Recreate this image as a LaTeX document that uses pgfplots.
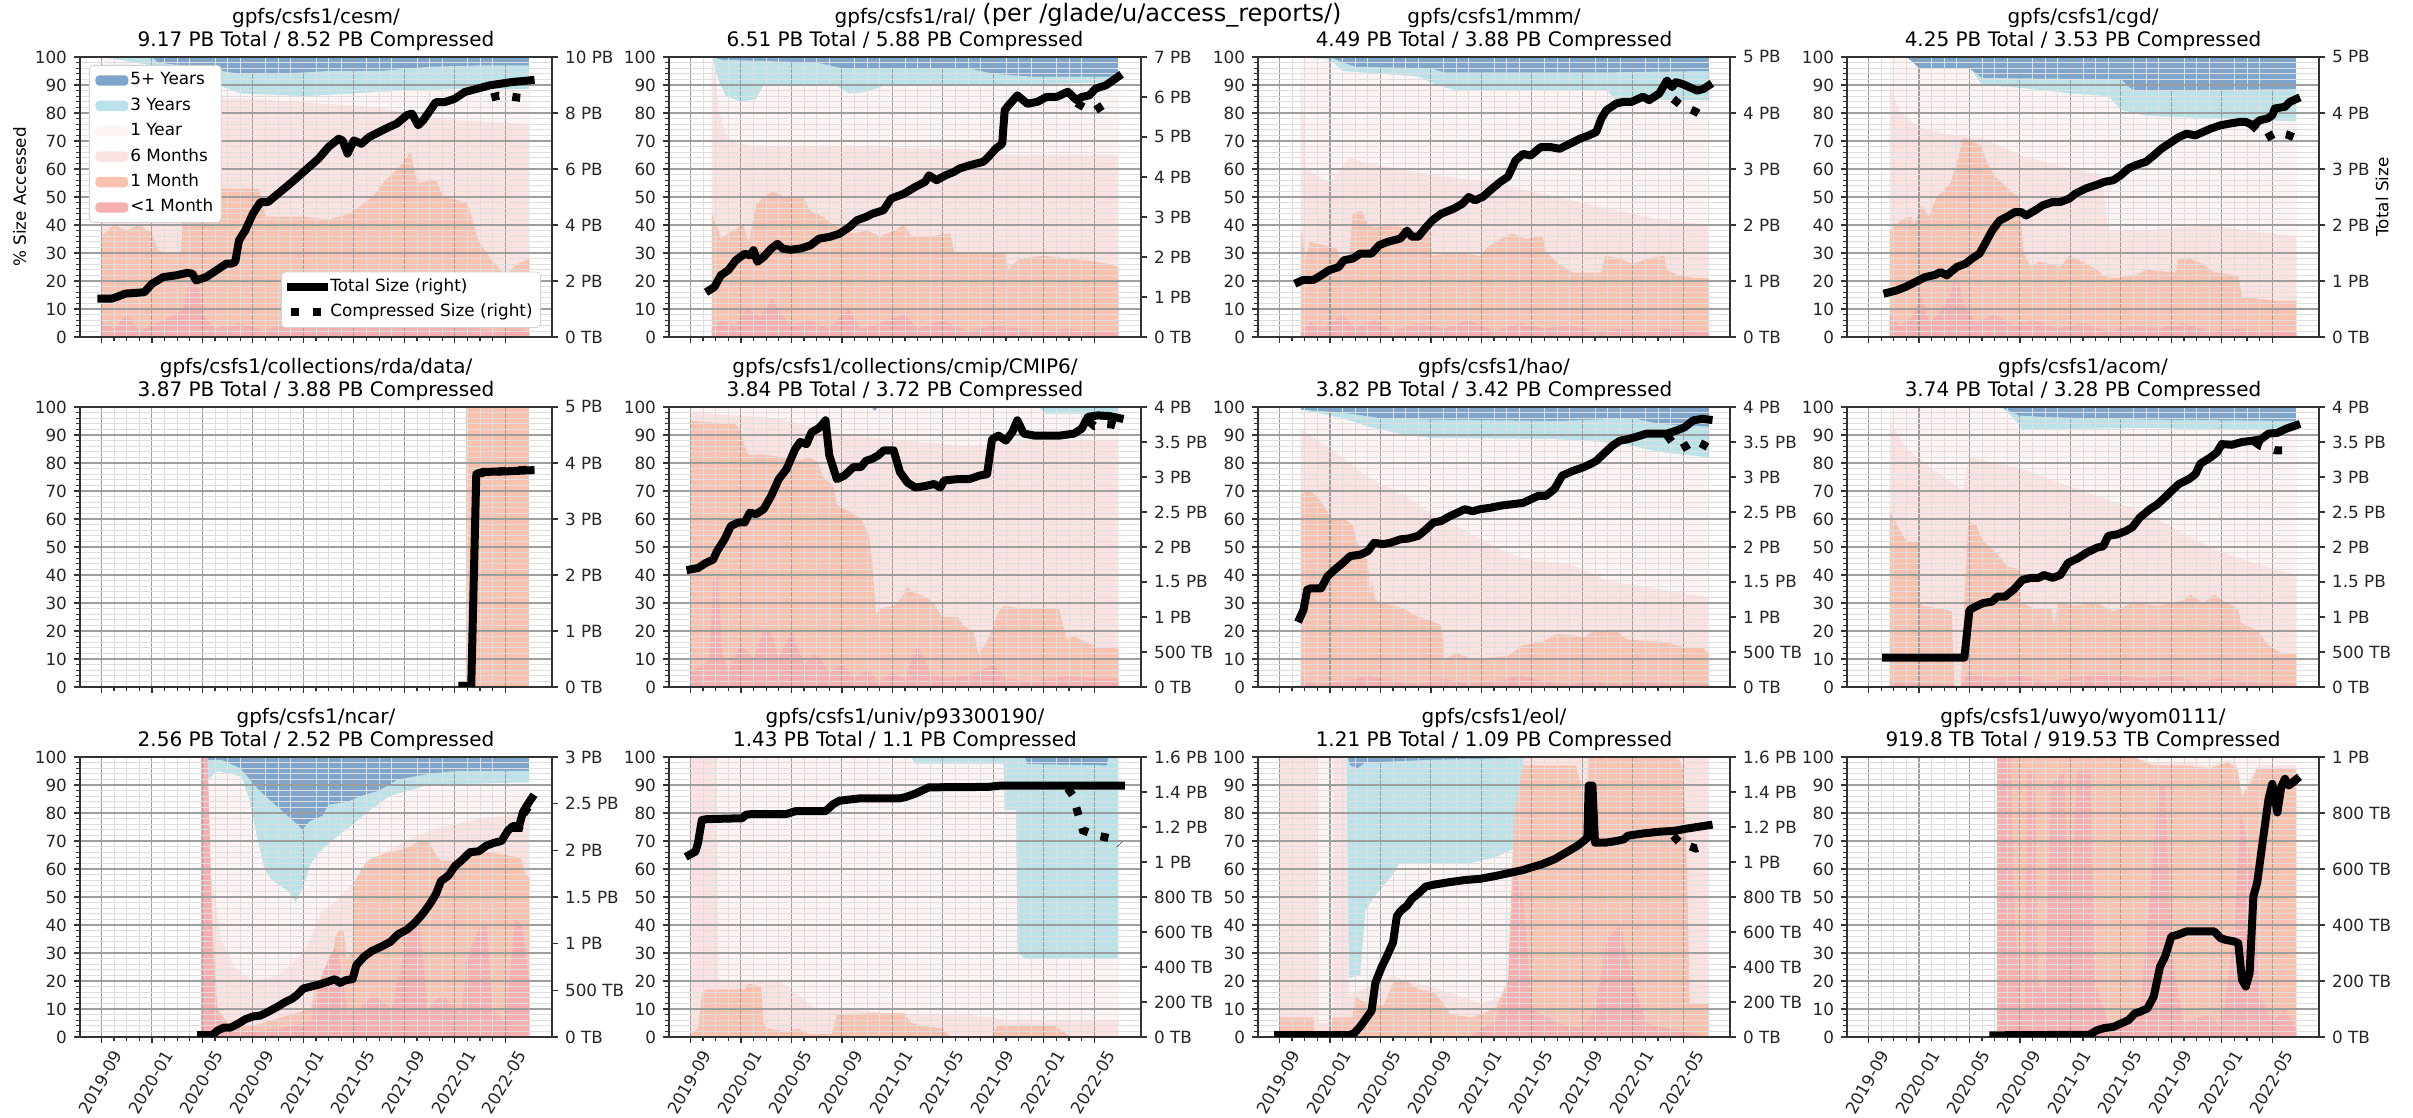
\documentclass[border=0pt]{standalone}
\usepackage{fontspec}
\setmainfont{DejaVu Sans}
\usepackage{pgfplots}
\pgfplotsset{compat=1.18}
\definecolor{cF}{RGB}{126,166,204}
\definecolor{cT}{RGB}{186,227,233}
\definecolor{cY}{RGB}{254,244,243}
\definecolor{cS}{RGB}{252,227,226}
\definecolor{cM}{RGB}{249,194,174}
\definecolor{cL}{RGB}{247,174,174}
\pgfplotsset{
  panel/.style={scale only axis, width=236pt, height=140pt, xmin=6.3, xmax=43.7,
    anchor=south west, /pgf/number format/assume math mode=true,
    tick label style={font=\fontsize{8.4}{10}\selectfont, text=black!85},
    tick align=outside, major tick length=3pt, minor tick length=1.8pt,
    every tick/.style={black!80, line width=0.6pt},
    axis line style={black!80, line width=0.7pt}},
  areaax/.style={panel, ymin=0, ymax=100, axis on top,
    xtick={8,12,...,40}, minor x tick num=3, xticklabels={},
    ytick={0,10,...,100}, minor y tick num=4,
    xtick pos=left, ytick pos=left,
    grid=both, major grid style={black!38, line width=0.55pt},
    minor grid style={black!13, line width=0.35pt},
    title style={at={(0.5,1)}, anchor=south, yshift=-3pt, inner sep=0pt, align=center,
      font=\fontsize{10}{11.5}\selectfont},
    legend image code/.code={\path[##1,draw=none] (0pt,-2.6pt) rectangle (16.5pt,2.6pt);}},
  lineax/.style={panel, ymin=0, axis x line=none, axis y line*=right,
    xtick=\empty, ytick pos=right, yticklabel pos=right,
    legend image code/.code={\draw[##1] (0pt,0pt) -- (16.5pt,0pt);}},
  bottomrow/.style={xticklabels={2019-09,2020-01,2020-05,2020-09,2021-01,2021-05,2021-09,2022-01,2022-05},
    xticklabel style={xshift=10pt, yshift=-1.5pt, rotate=60, anchor=east}},
  lgd/.style={legend cell align=left, legend style={draw=black!18, fill=white, rounded corners=2pt,
    font=\fontsize{8.4}{10}\selectfont, inner xsep=3pt, inner ysep=2.5pt, row sep=2.6pt,
    nodes={inner sep=1pt, text height=6.3pt, text depth=1.8pt}}},
  tot/.style={black, line width=4pt, line join=round, line cap=rect},
  cmp/.style={black, line width=4pt, dash pattern=on 4pt off 6.6pt, line cap=butt},
  TBPB/.style={ytick={0,0.5,1,1.5,2,2.5,3,3.5,4}, yticklabels={0 TB,500 TB,1 PB,1.5 PB,2 PB,2.5 PB,3 PB,3.5 PB,4 PB}},
  PB5/.style={ymax=5, ytick={0,1,2,3,4,5}, yticklabels={0 TB,1 PB,2 PB,3 PB,4 PB,5 PB}},
  PB16/.style={ymax=1.6, ytick={0,0.2,0.4,0.6,0.8,1,1.2,1.4,1.6}, yticklabels={0 TB,200 TB,400 TB,600 TB,800 TB,1 PB,1.2 PB,1.4 PB,1.6 PB}},
}
\newcommand{\areas}[6]{%
  \addplot[fill=cF,draw=none] coordinates {#1} \closedcycle;
  \addplot[fill=cT,draw=none] coordinates {#2} \closedcycle;
  \addplot[fill=cY,draw=none] coordinates {#3} \closedcycle;
  \addplot[fill=cS,draw=none] coordinates {#4} \closedcycle;
  \addplot[fill=cM,draw=none] coordinates {#5} \closedcycle;
  \addplot[fill=cL,draw=none] coordinates {#6} \closedcycle;
}
\newcommand{\sizes}[2]{%
  \addplot[tot] coordinates {#1};
  \addplot[cmp] coordinates {#2};
}
\begin{document}
\begin{tikzpicture}
\useasboundingbox (0,0) rectangle (1206.5pt,559pt);
\node[font=\fontsize{12}{14}\selectfont, anchor=base] at (581pt,548pt) {(per /glade/u/access\_reports/)};
\node[rotate=90, font=\fontsize{8.4}{10}\selectfont] at (9.75pt,460.5pt) {\% Size Accessed};
\node[rotate=90, font=\fontsize{8.4}{10}\selectfont] at (1191pt,460.5pt) {Total Size};

% ---------- Panel 1: cesm
\begin{axis}[areaax, lgd, at={(40pt,390.5pt)}, title={gpfs/csfs1/cesm/\\9.17 PB Total / 8.52 PB Compressed},
  legend style={at={(0,1)}, anchor=north west, xshift=4.5pt, yshift=-4pt}]
\areas{(8,100)(41.9,100)}
{(8,100)(12,100)(12.5,98)(16,96)(19,94)(22,94)(26,95)(30,95)(34,96.5)(38,97)(41.9,97)}
{(8,100)(12,97)(16,92)(19,87)(24,86)(28,87)(32,88)(36,88.5)(41.9,88.5)}
{(8,85)(20,85)(30,82)(34,78)(38,77)(41.9,76)}
{(8,36)(9,40)(10,38)(11,40)(12,37)(12.5,31)(13,30)(14.3,30)(14.5,50)(15.5,52)(17,53)(18.5,53)(20.5,53)(21,43)(24,43)(26,42)(27.7,44)(29.5,50)(30.5,56)(31.5,60)(32.5,66)(33,55)(34.5,56)(35.1,50)(36.9,48)(37.2,45)(37.8,35)(38.8,28)(40,22)(40.9,26)(41.9,28)}
{(8,5)(9,3)(10,8)(11,2)(12,4)(13,6)(14.5,10)(15,22)(15.5,25)(16,8)(17,3)(19,5)(21,2)(23,6)(25,3)(27,5)(29,8)(31,3)(33,6)(35,3)(37,4)(39,2)(41,3)(41.9,2)}
\legend{5+ Years,3 Years,1 Year,6 Months,1 Month,<1 Month}
\end{axis}
\begin{axis}[lineax, lgd, at={(40pt,390.5pt)}, ymax=10, ytick={0,2,4,6,8,10}, yticklabels={0 TB,2 PB,4 PB,6 PB,8 PB,10 PB},
  legend style={at={(1,0)}, anchor=south east, xshift=-5.5pt, yshift=4.5pt}]
\sizes{(8,1.37)(8.8,1.37)(9.2,1.43)(9.9,1.55)(10.6,1.57)(11.4,1.60)(12,1.90)(12.9,2.14)(13.9,2.20)(14.8,2.29)(15.2,2.26)(15.5,2.02)(16.3,2.14)(17.1,2.38)(17.9,2.62)(18.3,2.62)(18.6,2.68)(18.9,3.45)(19.4,3.81)(20,4.40)(20.6,4.82)(21.2,4.82)(22,5.12)(22.8,5.42)(23.4,5.65)(24.3,6.01)(25.2,6.37)(26,6.79)(26.8,7.08)(27.1,7.02)(27.5,6.55)(28,7.02)(28.6,6.90)(29.2,7.14)(30,7.32)(30.8,7.50)(31.4,7.62)(32.2,7.92)(32.6,7.98)(33.1,7.56)(33.5,7.74)(34.5,8.39)(35.2,8.39)(36,8.51)(36.8,8.75)(37.8,8.87)(38.8,8.99)(39.7,9.05)(40.6,9.11)(41.4,9.14)(42,9.17)}
{(38.9,8.55)(39.5,8.62)(40.3,8.60)(41,8.55)(41.7,8.52)}
\legend{Total Size (right),Compressed Size (right)}
\end{axis}

% ---------- Panel 2: ral
\begin{axis}[areaax, at={(334.5pt,390.5pt)}, title={gpfs/csfs1/ral/\\6.51 PB Total / 5.88 PB Compressed}]
\areas{(9.7,100)(41.9,100)}
{(9.7,100)(10.5,99)(18,98)(20,96)(30,96)(32,94)(35,93)(41.9,93)}
{(9.7,100)(10.2,92)(10.8,86)(12,84)(13.2,85)(13.8,90)(19.5,90)(20.5,87)(22,87.5)(23.5,90)(32,90)(41.9,91)}
{(9.7,100)(10.3,80)(11,70)(13,68)(20,68)(30,67)(33,65)(41.9,65)}
{(9.7,44)(10.1,40)(10.4,35)(11,37)(12.2,40)(12.6,34)(13.2,47)(13.8,50)(14.5,52)(15.5,50)(16.9,50)(17.5,45)(18.5,43)(19.3,40)(20.9,37)(22,38)(23,36)(24.2,38)(24.9,40)(25.5,36)(27,36)(28.6,37)(28.9,30)(32.9,30)(33.2,24)(34,28)(36,29)(38,28)(40,27)(41.2,26)(41.9,25)}
{(9.7,3)(10.5,6)(11.5,4)(12.5,10)(13.5,7)(14.5,14)(15,9)(16,4)(17.5,6)(19,3)(20.5,10)(21.5,3)(23,5)(25,8)(26,3)(28,6)(30,2)(32,4)(34,3)(36,2)(38,3)(40,2)(41.9,2)}
\end{axis}
\begin{axis}[lineax, at={(334.5pt,390.5pt)}, ymax=7, ytick={0,1,2,3,4,5,6,7}, yticklabels={0 TB,1 PB,2 PB,3 PB,4 PB,5 PB,6 PB,7 PB}]
\sizes{(9.5,1.17)(9.9,1.25)(10.4,1.54)(11,1.67)(11.6,1.92)(12.3,2.08)(12.7,2.04)(13,2.17)(13.3,1.88)(13.8,2.0)(14.4,2.21)(14.9,2.33)(15.3,2.21)(15.9,2.18)(16.7,2.21)(17.5,2.29)(18.2,2.46)(19,2.5)(19.8,2.58)(20.6,2.75)(21.2,2.92)(21.9,3.0)(22.4,3.08)(23.3,3.17)(23.9,3.46)(24.9,3.58)(25.8,3.75)(26.6,3.88)(26.9,4.04)(27.5,3.92)(28.2,4.04)(28.9,4.13)(29.3,4.21)(30.1,4.29)(31.2,4.38)(31.6,4.5)(32.2,4.71)(32.7,4.83)(32.9,5.67)(33.2,5.79)(33.9,6.04)(34.7,5.83)(35.5,5.88)(36.2,6.0)(37,6.0)(37.9,6.13)(38.6,5.92)(39,6.0)(39.6,6.04)(40.1,6.21)(40.9,6.29)(41.5,6.42)(41.9,6.51)}
{(38.6,5.85)(39.3,5.72)(40,5.65)(40.7,5.80)(41.5,5.88)}
\end{axis}

% ---------- Panel 3: mmm
\begin{axis}[areaax, at={(629pt,390.5pt)}, title={gpfs/csfs1/mmm/\\4.49 PB Total / 3.88 PB Compressed}]
\areas{(9.7,100)(42,100)}
{(9.7,100)(12,100)(13,98)(14,96.5)(20,96)(21,94.5)(34,94.5)(42,95)}
{(9.7,100)(12,99)(13,95)(19,93)(20.5,90)(22,88)(34,88)(34.5,85)(42,84.5)}
{(9.7,95)(10.1,60)(12,55)(13.5,64)(15,62)(20,58)(25,55)(30,50)(35,45)(38,42)(42,40)}
{(9.7,38)(10.1,28)(10.4,34)(11.3,33)(12.5,32)(12.8,28)(13.5,28)(13.8,44)(14.5,45)(15,40)(15.6,39)(17,40)(18.5,38)(19.9,38)(20.1,29)(22,30)(23.9,29)(24.5,32)(25.5,35)(26.4,37)(27.5,35)(28.8,36)(29.2,30)(30.1,26)(31.3,23)(33.5,23)(33.8,29)(35,28)(36,26)(37.1,28)(38.5,29)(38.7,24)(39.6,22)(41,21)(42,21)}
{(9.7,2)(10.5,5)(11.5,3)(13,8)(14,3)(15.5,6)(17,2)(19,5)(21,3)(23,6)(25,2)(27,5)(29,3)(31,4)(33,2)(35,3)(37,2)(39,3)(41,2)(42,2)}
\end{axis}
\begin{axis}[lineax, PB5, at={(629pt,390.5pt)}]
\sizes{(9.5,0.98)(9.9,1.02)(10.7,1.02)(11.3,1.10)(11.9,1.19)(12.7,1.25)(13.1,1.37)(13.8,1.40)(14.4,1.49)(15.3,1.49)(15.9,1.64)(16.6,1.70)(17.1,1.73)(17.6,1.76)(18.1,1.90)(18.5,1.79)(19,1.79)(19.5,1.93)(20.1,2.08)(20.8,2.20)(21.8,2.29)(22.5,2.38)(23,2.50)(23.5,2.44)(24.1,2.50)(24.7,2.62)(25.5,2.77)(26.1,2.86)(26.7,3.15)(27.3,3.27)(27.9,3.24)(28.7,3.39)(29.5,3.39)(30.2,3.36)(31,3.45)(31.8,3.54)(32.5,3.60)(33.1,3.66)(33.5,3.90)(33.9,4.05)(34.7,4.17)(35.3,4.20)(35.9,4.20)(36.8,4.29)(37.3,4.23)(38.1,4.35)(38.7,4.58)(39.1,4.46)(39.4,4.55)(39.9,4.52)(40.5,4.46)(41.1,4.40)(41.6,4.43)(42,4.49)}
{(39.2,4.25)(39.8,4.14)(41,4.02)(42,3.88)}
\end{axis}

% ---------- Panel 4: cgd
\begin{axis}[areaax, at={(923.5pt,390.5pt)}, title={gpfs/csfs1/cgd/\\4.25 PB Total / 3.53 PB Compressed}]
\areas{(9.7,100)(41.9,100)}
{(9.7,100)(11,100)(12,96)(16,96)(17,92.5)(28,92)(29,88)(41.9,88.5)}
{(9.7,100)(11,100)(12,96)(16,96)(17,90)(20,89)(24,87)(27,86)(28,81)(30,79)(41.9,77)}
{(9.7,90)(10.5,80)(12,75)(14,72.5)(17,71)(20,65)(24,60)(26.5,58)(27,38)(30,38)(35,40)(38,38)(41.9,36)}
{(9.7,38)(10.2,40)(10.6,42)(11.4,43)(11.6,40)(12.2,47)(12.8,43)(13.4,50)(14.5,55)(15,62)(15.5,71)(16.2,70)(17,68)(17.4,62)(18.1,57)(19.3,52)(19.9,50)(20.3,30)(20.9,25)(21.5,27)(22.4,26)(23.2,25)(23.9,29)(24.9,27)(26.1,24)(26.6,22)(27.4,21)(29.2,22)(30,24)(32.3,23)(32.6,28)(33.5,28)(34.5,26)(35.4,23)(37.3,22)(37.6,14)(38.2,14)(40,13)(41.9,13)}
{(9.7,8)(10.5,4)(11.5,7)(12.2,15)(12.8,5)(13.5,8)(14.5,15)(15,24)(15.5,12)(16.5,5)(18,8)(19.5,4)(21,6)(23,3)(25,5)(27,2)(29,4)(31,3)(33,5)(35,2)(37,3)(39,2)(41.9,2)}
\end{axis}
\begin{axis}[lineax, PB5, at={(923.5pt,390.5pt)}]
\sizes{(9.5,0.79)(10.2,0.83)(10.9,0.89)(11.7,0.98)(12.5,1.07)(13.3,1.11)(13.7,1.16)(14.2,1.10)(15,1.25)(15.7,1.31)(16.2,1.40)(16.8,1.49)(17.1,1.61)(17.8,1.90)(18.4,2.08)(19,2.15)(19.6,2.23)(20.1,2.23)(20.5,2.17)(21.2,2.26)(21.8,2.35)(22.6,2.41)(23.2,2.41)(23.9,2.47)(24.4,2.56)(25.2,2.65)(26,2.71)(26.7,2.77)(27.4,2.80)(28,2.89)(28.6,3.01)(29.2,3.07)(30,3.13)(30.6,3.24)(31.2,3.36)(32,3.48)(32.6,3.57)(33.2,3.63)(33.9,3.60)(34.5,3.66)(35.1,3.72)(35.9,3.78)(36.6,3.81)(37.4,3.84)(37.9,3.84)(38.5,3.78)(39,3.87)(39.6,3.90)(40,3.96)(40.2,4.08)(41,4.11)(41.4,4.20)(41.9,4.25)}
{(38.3,3.80)(39.5,3.55)(40.4,3.66)(41.1,3.62)(41.9,3.55)}
\end{axis}

% ---------- Panel 5: rda
\begin{axis}[areaax, at={(40pt,215.5pt)}, title={gpfs/csfs1/collections/rda/data/\\3.87 PB Total / 3.88 PB Compressed}]
\areas{(36.9,100)(41.9,100)}
{(36.9,100)(41.9,100)}
{(36.9,100)(41.9,100)}
{(36.9,100)(41.9,100)}
{(36.9,100)(41.9,100)}
{(36.9,0)(41.9,0)}
\end{axis}
\begin{axis}[lineax, PB5, at={(40pt,215.5pt)}]
\sizes{(36.6,0.02)(37.3,0.02)(37.7,3.80)(38.2,3.84)(40,3.85)(42,3.87)}
{(37.7,3.81)(40,3.86)(42,3.88)}
\end{axis}

% ---------- Panel 6: cmip
\begin{axis}[areaax, at={(334.5pt,215.5pt)}, title={gpfs/csfs1/collections/cmip/CMIP6/\\3.84 PB Total / 3.72 PB Compressed}]
\areas{(8,100)(41.9,100)}
{(8,100)(22.3,100)(22.6,98.5)(22.9,100)(41.9,100)}
{(8,100)(22.3,100)(22.6,98.5)(22.9,100)(35.5,100)(36.2,97.5)(41.9,97.5)}
{(8,98)(15,96)(20,90)(25,88)(30,86)(35,88)(41.9,88)}
{(8,95)(11.5,94)(11.9,92)(12.3,86)(12.6,83)(13.8,83)(15.3,82)(16.6,81)(17.5,82)(18.1,80)(18.5,75)(19.3,72)(19.6,65)(20.9,62)(21.5,60)(22.1,55)(22.4,45)(22.7,26)(23,28)(24.2,29)(24.9,33)(25.2,36)(25.5,34)(26.7,32)(27.3,30)(27.9,25)(29.2,25)(29.6,22)(30.4,20)(30.8,12)(31.2,14)(31.9,20)(32.4,27)(32.9,29)(34.1,28)(37.2,28)(37.8,17)(38.4,18)(39.3,16)(40.3,14)(41.9,14)}
{(8,5)(9,8)(9.5,10)(9.8,38)(10.2,40)(10.5,12)(11,6)(12,15)(13,10)(14,22)(14.5,18)(15,10)(16,20)(17,8)(18,12)(19,5)(20,8)(21,3)(22,6)(23,2)(24,5)(25,3)(26,15)(27,5)(28,3)(30,4)(32,8)(33,3)(35,2)(38,4)(40,3)(41.9,3)}
\end{axis}
\begin{axis}[lineax, TBPB, ymax=4, at={(334.5pt,215.5pt)}]
\sizes{(8,1.68)(8.6,1.70)(9.2,1.77)(9.8,1.82)(10.1,1.94)(10.7,2.11)(11.2,2.30)(11.8,2.35)(12.3,2.35)(12.7,2.49)(13.2,2.47)(13.8,2.54)(14.4,2.73)(15,2.97)(15.6,3.11)(16.3,3.40)(16.7,3.50)(17.2,3.47)(17.6,3.64)(18.1,3.69)(18.4,3.74)(18.7,3.81)(19,3.31)(19.6,2.97)(20.2,3.02)(20.9,3.14)(21.5,3.14)(21.9,3.23)(22.4,3.26)(22.9,3.31)(23.3,3.38)(24.1,3.38)(24.6,3.07)(25.2,2.92)(25.8,2.85)(26.6,2.87)(27.3,2.90)(27.8,2.85)(28.1,2.95)(29.2,2.97)(30.1,2.97)(30.9,3.02)(31.5,3.04)(31.9,3.54)(32.4,3.59)(33,3.52)(33.5,3.64)(33.9,3.81)(34.4,3.62)(35.3,3.59)(36.2,3.59)(37.2,3.59)(38.4,3.62)(39,3.69)(39.5,3.86)(40.3,3.88)(41.2,3.87)(42,3.84)}
{(39.5,3.80)(40,3.73)(40.7,3.76)(41.4,3.75)(42,3.72)}
\end{axis}

% ---------- Panel 7: hao
\begin{axis}[areaax, at={(629pt,215.5pt)}, title={gpfs/csfs1/hao/\\3.82 PB Total / 3.42 PB Compressed}]
\areas{(9.7,100)(42,100)}
{(9.7,99)(13,98)(16,96)(20,95.5)(30,95)(36,96)(38,94)(42,93)}
{(9.7,99)(13,96)(15,93)(18,90)(20,89)(30,88.5)(35,87)(38,84)(42,82)}
{(9.7,92)(12,85)(15,75)(18,68)(20,62)(23,55)(26,48)(28,45)(31,44)(34,38)(38,35)(42,32)}
{(9.7,69)(10.4,70)(11,68)(11.6,64)(12.2,60)(13.1,60)(13.8,58)(14.1,52)(14.7,47)(15,45)(15.2,32)(15.3,38)(15.6,31)(16.2,30)(17.8,28)(19,25)(19.9,24)(20.8,22)(21.1,10)(22,12)(23.3,10)(26.1,11)(27.3,15)(28.8,16)(30,19)(32.2,18)(33,20)(34.7,20)(35.5,17)(38.7,16)(40.2,14)(41.5,14)(42,12)}
{(9.7,3)(11,1)(13,2)(15,4)(17,2)(19,1)(21,3)(23,1)(25,2)(27,4)(29,2)(31,1)(33,2)(35,1)(37,2)(39,1)(42,1)}
\end{axis}
\begin{axis}[lineax, TBPB, ymax=4, at={(629pt,215.5pt)}]
\sizes{(9.6,0.98)(9.9,1.10)(10.2,1.39)(10.5,1.41)(11.3,1.41)(11.8,1.58)(12.4,1.68)(13,1.77)(13.6,1.87)(14.4,1.89)(15,1.94)(15.5,2.06)(16.2,2.04)(16.8,2.06)(17.6,2.11)(18.2,2.12)(19,2.16)(19.6,2.25)(20.2,2.35)(20.8,2.37)(21.5,2.44)(22.1,2.49)(22.7,2.54)(23.3,2.51)(23.9,2.54)(24.7,2.56)(25.5,2.59)(26.4,2.61)(27.3,2.63)(27.9,2.68)(28.5,2.73)(29.1,2.73)(29.8,2.83)(30.4,3.02)(31.3,3.09)(32.1,3.14)(32.7,3.19)(33.1,3.23)(33.8,3.35)(34.4,3.45)(35,3.52)(35.6,3.54)(36.2,3.57)(37.1,3.62)(37.9,3.62)(38.7,3.62)(39.4,3.66)(40.1,3.71)(40.8,3.81)(41.5,3.83)(42,3.82)}
{(38.7,3.60)(39.2,3.48)(39.8,3.40)(40.3,3.45)(40.9,3.52)(41.5,3.47)(42,3.42)}
\end{axis}

% ---------- Panel 8: acom
\begin{axis}[areaax, at={(923.5pt,215.5pt)}, title={gpfs/csfs1/acom/\\3.74 PB Total / 3.28 PB Compressed}]
\areas{(9.7,100)(41.9,100)}
{(9.7,100)(18.5,100)(19.9,97)(22,96.4)(30,95.5)(41.9,95)}
{(9.7,100)(18.5,100)(19.5,96)(20.2,92)(30,92.5)(41.9,91.5)}
{(9.7,95)(11,85)(13,78)(15.5,70)(16,82)(20,78)(25,70)(30,62)(35,50)(38,45)(41.9,40)}
{(9.7,63)(10,60)(10.6,55)(11,52)(11.9,52)(12,32)(12.2,29)(13.7,28)(14.6,27)(14.8,0)(15.3,0)(15.6,30)(15.9,59)(16.5,58)(17.1,52)(18.1,48)(19,43)(19.9,42)(20.1,30)(21.2,28)(22.5,28)(22.7,22)(23,30)(24.3,29)(26.1,30)(27.4,27)(28.9,30)(31,29)(33,31)(33.5,33)(34.5,30)(35.4,33)(36,31)(37.3,28)(37.5,23)(38.8,20)(39.7,15)(40.7,12)(41.9,12)}
{(9.7,2)(12,1)(14.6,1)(14.8,0)(15.3,0)(15.9,5)(18,3)(20,4)(22,2)(24,3)(26,5)(28,4)(30,3)(32,4)(34,2)(36,3)(38,2)(40,1)(41.9,1)}
\end{axis}
\begin{axis}[lineax, TBPB, ymax=4, at={(923.5pt,215.5pt)}]
\sizes{(9.4,0.42)(15.6,0.42)(16,1.10)(16.5,1.15)(17.1,1.20)(17.8,1.22)(18.2,1.29)(18.8,1.29)(19.5,1.39)(20.2,1.53)(20.9,1.56)(21.5,1.56)(21.9,1.60)(22.6,1.56)(23.2,1.60)(23.8,1.77)(24.6,1.84)(25.3,1.92)(26.1,1.99)(26.6,2.01)(27,2.16)(27.7,2.18)(28.4,2.23)(28.9,2.28)(29.5,2.42)(30.3,2.54)(30.9,2.61)(31.5,2.71)(32,2.80)(32.6,2.90)(33.4,2.97)(33.9,3.04)(34.3,3.19)(35.1,3.28)(35.6,3.35)(36,3.47)(36.8,3.46)(37.6,3.50)(38.5,3.52)(39.1,3.54)(39.7,3.62)(40.4,3.63)(41.1,3.69)(41.9,3.74)}
{(38.6,3.50)(39.1,3.44)(40.3,3.38)(41,3.38)(41.6,3.39)}
\end{axis}

% ---------- Panel 9: ncar
\begin{axis}[areaax, bottomrow, at={(40pt,40.5pt)}, title={gpfs/csfs1/ncar/\\2.56 PB Total / 2.52 PB Compressed}]
\areas{(15.9,100)(41.9,100)}
{(15.9,100)(16.5,99)(17.5,99)(19,96)(20.5,88)(21.5,84)(22.5,80)(23.5,76)(23.9,74)(24.5,77)(25.5,79)(26,83)(27.5,84)(28.5,86)(30,88)(31.5,92)(34,94)(36,95)(41.9,95)}
{(15.9,100)(16.5,92)(17.2,95)(19.1,93)(19.7,85)(20.3,72)(20.9,60)(21.5,56)(22.8,52)(23.4,48)(24,54)(24.6,62)(25.5,67)(26.8,72)(27.7,75)(29,80)(30.8,86)(33.9,90)(41.9,91)}
{(15.9,100)(16.6,60)(17.5,35)(18.5,25)(20,20)(22,22)(24,30)(25.5,45)(26.5,48)(28,55)(30,65)(33,72)(35,75)(38,78)(41.9,80)}
{(15.9,100)(16.4,100)(16.8,40)(17.2,10)(18,5)(20,4)(21.5,6)(23,8)(24.6,10)(25,20)(26.2,22)(26.5,35)(26.8,38)(27.2,38)(27.4,28)(27.9,30)(28,55)(28.9,62)(29.5,64)(30.8,66)(32,67)(33.2,70)(33.9,70)(34.5,65)(34.9,63)(36,63)(37,65)(38.5,66)(40,65)(41.2,64)(41.6,58)(41.9,57)}
{(15.9,100)(16.4,100)(16.8,30)(17.2,8)(18,3)(20,2)(22,3)(24,5)(24.6,6)(25.3,20)(26,28)(26.5,32)(27,25)(27.5,8)(28.5,10)(29.5,15)(31,10)(32.5,40)(33.2,42)(33.8,10)(35,15)(36.5,8)(37,28)(38,40)(38.5,40)(39,10)(40,5)(40.8,42)(41.3,40)(41.9,20)}
\end{axis}
\begin{axis}[lineax, at={(40pt,40.5pt)}, ymax=3, ytick={0,0.5,1,1.5,2,2.5,3}, yticklabels={0 TB,500 TB,1 PB,1.5 PB,2 PB,2.5 PB,3 PB}]
\sizes{(15.9,0.02)(16.8,0.02)(17.2,0.07)(17.7,0.10)(18.2,0.10)(18.8,0.14)(19.4,0.19)(20,0.22)(20.6,0.23)(21.2,0.27)(21.9,0.32)(22.5,0.37)(23.1,0.41)(23.5,0.45)(24,0.52)(24.6,0.54)(25.2,0.56)(25.9,0.59)(26.5,0.62)(26.9,0.58)(27.4,0.61)(27.9,0.62)(28.2,0.77)(28.8,0.86)(29.4,0.92)(30.2,0.97)(30.9,1.02)(31.5,1.10)(32.2,1.15)(32.8,1.22)(33.4,1.31)(34,1.42)(34.5,1.53)(34.9,1.67)(35.5,1.73)(36,1.83)(36.6,1.90)(37.2,1.98)(37.9,1.99)(38.5,2.05)(39.1,2.08)(39.7,2.10)(40.2,2.21)(40.6,2.26)(41.1,2.26)(41.4,2.41)(41.9,2.52)(42.1,2.56)}
{(40.6,2.24)(41.1,2.24)(41.4,2.38)(42.1,2.52)}
\end{axis}

% ---------- Panel 10: univ
\begin{axis}[areaax, bottomrow, at={(334.5pt,40.5pt)}, title={gpfs/csfs1/univ/p93300190/\\1.43 PB Total / 1.1 PB Compressed}]
\areas{(8,100)(41.9,100)}
{(8,100)(34.5,100)(34.7,97.5)(41,97)(41.1,100)(41.9,100)}
{(8,100)(25.5,100)(25.8,97.5)(32.8,97.5)(32.9,81)(33.8,81)(33.9,30)(34.5,28)(41.9,28)}
{(8,100)(10.1,100)(10.2,20)(15,20)(18,10)(20,10)(25,8)(30,8)(33,6)(41.9,6)}
{(8,1)(8.6,3)(8.9,15)(9.2,17)(12.3,17)(12.6,19)(13.6,18)(13.8,5)(14.1,3)(15.6,2)(16.5,3)(17.5,1)(19.2,1)(19.6,8)(22,8.5)(24.9,8.5)(25.5,5)(26.4,4)(28,3)(28.6,0)(31.9,0)(32.3,4)(36.9,4)(37.8,1)(38.2,0)(41.9,0)}
{(8,0)(41.9,0)}
\end{axis}
\begin{axis}[lineax, PB16, at={(334.5pt,40.5pt)}]
\sizes{(7.9,1.04)(8.4,1.06)(8.6,1.11)(8.9,1.24)(9.3,1.245)(12.1,1.25)(12.4,1.27)(12.9,1.274)(15.6,1.274)(16.3,1.29)(18.7,1.29)(19.3,1.33)(19.8,1.35)(20.6,1.357)(21.5,1.364)(24.6,1.364)(25,1.37)(25.8,1.39)(26.4,1.41)(26.9,1.427)(27.6,1.427)(31.6,1.429)(32.6,1.437)(42.1,1.437)}
{(37.9,1.42)(38.3,1.38)(38.7,1.28)(39.1,1.18)(40.3,1.15)(41.6,1.13)(42,1.10)}
\end{axis}

% ---------- Panel 11: eol
\begin{axis}[areaax, bottomrow, at={(629pt,40.5pt)}, title={gpfs/csfs1/eol/\\1.21 PB Total / 1.09 PB Compressed}]
\areas{(8,100)(42,100)}
{(8,100)(13.4,100)(13.6,97)(14.2,96)(14.8,98)(20,99)(26,99.5)(27.3,100)(42,100)}
{(8,100)(13.3,100)(13.5,21)(14.4,22)(14.8,45)(15.5,50)(17,58)(17.5,62)(23,62)(25,64)(26.5,67)(27.3,70)(27.35,100)(42,100)}
{(8,100)(11,100)(11.1,5)(12.2,5)(12.3,100)(13.3,100)(13.5,15)(15,18)(17,22)(18,20)(20,18)(22,15)(24,12)(26,15)(27.3,18)(27.35,100)(42,100)}
{(8,7)(10.7,7)(10.8,0)(12.1,0)(12.2,7)(13.8,7)(14,15)(14.4,13)(16.2,11)(17.1,20)(18,20)(19,17)(20.2,16)(21,12)(21.5,8)(23.3,7)(25.1,10)(26.1,20)(26.6,80)(27.3,97)(31.5,97)(31.9,90)(32.2,70)(32.5,100)(39.6,100)(40,95)(40.3,60)(40.5,12)(42,12)}
{(8,0)(23,0)(24.5,4)(25.1,5)(26.1,18)(26.6,60)(27.3,50)(28,10)(30,5)(32,3)(33,10)(34,35)(35,40)(36,20)(37,5)(39,3)(42,0)}
\end{axis}
\begin{axis}[lineax, PB16, at={(629pt,40.5pt)}]
\sizes{(7.9,0.01)(13.5,0.01)(13.9,0.02)(14.4,0.06)(14.8,0.10)(15.3,0.15)(15.6,0.31)(16.1,0.40)(16.5,0.46)(17,0.54)(17.3,0.69)(17.6,0.72)(18.1,0.75)(18.5,0.79)(19,0.82)(19.6,0.86)(20.2,0.87)(21.5,0.885)(22.7,0.897)(23.9,0.904)(25.1,0.92)(26.4,0.94)(27.3,0.954)(27.9,0.968)(28.8,0.987)(29.8,1.016)(30.7,1.054)(31.6,1.092)(32.1,1.12)(32.4,1.14)(32.5,1.437)(32.8,1.437)(33,1.11)(33.8,1.11)(34.7,1.12)(35.3,1.13)(35.6,1.15)(36.8,1.163)(38.1,1.173)(39.3,1.178)(40.2,1.19)(41.1,1.20)(42,1.21)}
{(39.2,1.15)(39.9,1.096)(40.5,1.09)(41,1.077)(41.6,1.09)}
\end{axis}

% ---------- Panel 12: uwyo
\begin{axis}[areaax, bottomrow, at={(923.5pt,40.5pt)}, title={gpfs/csfs1/uwyo/wyom0111/\\919.8 TB Total / 919.53 TB Compressed}]
\areas{(18.2,100)(41.9,100)}
{(18.2,100)(41.9,100)}
{(18.2,100)(41.9,100)}
{(18.2,100)(29,100)(30.5,98)(33,98)(35,97)(36.5,99)(37.2,97)(37.6,88)(38.2,92)(38.8,97)(41.9,97)}
{(18.2,100)(29,100)(30.5,97)(33,97)(35,96)(36.5,98)(37.2,96)(37.6,86)(38.2,90)(38.8,96)(41.9,96)}
{(18.2,100)(19.3,100)(19.5,50)(20,10)(20.4,10)(20.6,95)(21.2,95)(21.4,20)(22,15)(22.5,90)(23.5,95)(24,30)(24.5,95)(25.6,95)(25.9,20)(27,5)(28.5,5)(29.5,8)(30.5,60)(31,90)(31.5,90)(32,30)(33,5)(35,8)(36,3)(37,40)(37.5,80)(38.5,60)(39,15)(40,5)(41,10)(41.9,3)}
\end{axis}
\begin{axis}[lineax, at={(923.5pt,40.5pt)}, ymax=1, ytick={0,0.2,0.4,0.6,0.8,1}, yticklabels={0 TB,200 TB,400 TB,600 TB,800 TB,1 PB}]
\sizes{(17.9,0.006)(25.5,0.008)(26.1,0.024)(26.7,0.032)(27.4,0.036)(28,0.048)(28.6,0.06)(29.1,0.084)(29.5,0.09)(30.1,0.102)(30.6,0.144)(31.1,0.251)(31.5,0.287)(32,0.359)(32.5,0.365)(33.2,0.377)(35.4,0.377)(35.9,0.353)(36.3,0.347)(37,0.341)(37.3,0.335)(37.6,0.204)(37.9,0.18)(38.2,0.228)(38.5,0.503)(38.8,0.551)(39.3,0.719)(39.7,0.85)(40,0.904)(40.4,0.802)(40.7,0.892)(41,0.922)(41.3,0.898)(41.9,0.92)}
{(40.7,0.89)(41,0.92)(41.3,0.897)(41.9,0.9195)}
\end{axis}
\end{tikzpicture}
\end{document}
